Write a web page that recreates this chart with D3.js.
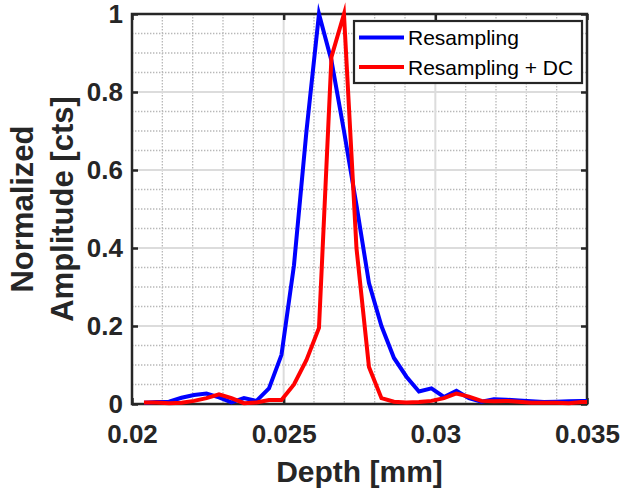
<!DOCTYPE html>
<html><head><meta charset="utf-8">
<script src="https://cdn.jsdelivr.net/npm/d3@7/dist/d3.min.js"></script>
<style>
html,body{margin:0;padding:0;background:#fff}
svg{display:block}
text{font-family:"Liberation Sans",Arial,Helvetica,sans-serif}
</style>
</head><body>
<svg id="chart" width="621" height="489"></svg>
<script>
// ---- data ----
const depth = [0.020396,0.020808,0.021220,0.021632,0.022044,0.022456,0.022868,0.023280,
  0.023692,0.024104,0.024516,0.024928,0.025340,0.025752,0.026164,0.026576,0.026988,
  0.027400,0.027812,0.028224,0.028636,0.029048,0.029460,0.029872,0.030284,0.030696,
  0.031108,0.031520,0.031932,0.032344,0.032756,0.033168,0.033580,0.033992,0.034404,
  0.034816,0.035228];
const resampling = [0.003,0.005,0.006,0.016,0.023,0.027,0.017,0.004,0.015,0.008,0.040,
  0.126,0.356,0.700,1.000,0.880,0.700,0.510,0.310,0.200,0.118,0.070,0.032,0.040,0.018,
  0.034,0.015,0.006,0.012,0.011,0.009,0.007,0.005,0.006,0.007,0.008,0.008];
const resamplingDC = [0.004,0.004,0.002,0.003,0.008,0.015,0.025,0.015,0.002,0.004,0.010,
  0.010,0.050,0.113,0.195,0.890,1.000,0.400,0.095,0.015,0.006,0.004,0.005,0.008,0.015,
  0.027,0.019,0.008,0.007,0.008,0.006,0.003,0.003,0.003,0.002,0.005,0.005];
const seriesNames = ["Resampling","Resampling + DC"];
const seriesColors = ["#0000ff","#ff0000"];
const xTicks = [0.02,0.025,0.03,0.035];
const xTickLabels = ["0.02","0.025","0.03","0.035"];
const yTicks = [0,0.2,0.4,0.6,0.8,1];
const yTickLabels = ["0","0.2","0.4","0.6","0.8","1"];
const xLabel = "Depth [mm]";
const yLabelLines = ["Normalized","Amplitude [cts]"];

// ---- layout ----
const L = 132, R = 587, T = 14, B = 404;
const axisColor = "#262626";
const svg = d3.select("#chart");
const x = d3.scaleLinear().domain([0.02,0.035]).range([L,R]);
const y = d3.scaleLinear().domain([0,1]).range([B,T]);

// grid
const minorX = d3.range(21,35).map(v=>v/1000).filter(v=>Math.round(v*1000)%5!==0);
const minorY = d3.range(1,20).map(v=>v/20).filter(v=>Math.round(v*20)%4!==0);
const gGrid = svg.append("g");
gGrid.selectAll("line.mx").data(minorX).join("line")
  .attr("x1",d=>x(d)).attr("x2",d=>x(d)).attr("y1",T).attr("y2",B)
  .attr("stroke","#b8b8b8").attr("stroke-width",1.3).attr("stroke-dasharray","1.4,1.6");
gGrid.selectAll("line.my").data(minorY).join("line")
  .attr("y1",d=>y(d)).attr("y2",d=>y(d)).attr("x1",L).attr("x2",R)
  .attr("stroke","#b8b8b8").attr("stroke-width",1.3).attr("stroke-dasharray","1.4,1.6");
gGrid.selectAll("line.Mx").data(xTicks.slice(1,-1)).join("line")
  .attr("x1",d=>x(d)).attr("x2",d=>x(d)).attr("y1",T).attr("y2",B)
  .attr("stroke","#dcdcdc").attr("stroke-width",2);
gGrid.selectAll("line.My").data(yTicks.slice(1,-1)).join("line")
  .attr("y1",d=>y(d)).attr("y2",d=>y(d)).attr("x1",L).attr("x2",R)
  .attr("stroke","#dcdcdc").attr("stroke-width",2);

// axes
function styleAxis(g){
  g.select(".domain").remove();
  g.selectAll(".tick line").attr("stroke",axisColor).attr("stroke-width",2.5);
  g.selectAll(".tick text").attr("fill",axisColor).attr("font-weight","bold").attr("font-size",26);
}
svg.append("g").attr("transform",`translate(0,${B})`)
  .call(d3.axisBottom(x).tickValues(xTicks).tickFormat((d,i)=>xTickLabels[i]).tickSizeInner(-6).tickSizeOuter(0).tickPadding(21))
  .call(styleAxis);
svg.append("g").attr("transform",`translate(0,${T})`)
  .call(d3.axisTop(x).tickValues(xTicks).tickFormat("").tickSizeInner(-6).tickSizeOuter(0))
  .call(styleAxis);
svg.append("g").attr("transform",`translate(${L},0)`)
  .call(d3.axisLeft(y).tickValues(yTicks).tickFormat((d,i)=>yTickLabels[i]).tickSizeInner(-6).tickSizeOuter(0).tickPadding(9))
  .call(styleAxis);
svg.append("g").attr("transform",`translate(${R},0)`)
  .call(d3.axisRight(y).tickValues(yTicks).tickFormat("").tickSizeInner(-6).tickSizeOuter(0))
  .call(styleAxis);

// box
svg.append("rect").attr("x",L).attr("y",T).attr("width",R-L).attr("height",B-T)
  .attr("fill","none").attr("stroke",axisColor).attr("stroke-width",2.5);

// data lines
svg.append("clipPath").attr("id","clip").append("rect")
  .attr("x",L).attr("y",0).attr("width",R-L).attr("height",489);
const line = d3.line().x(d=>x(d[0])).y(d=>y(d[1]));
[resampling,resamplingDC].forEach((vals,k)=>{
  svg.append("path").datum(depth.map((d,i)=>[d,vals[i]]))
    .attr("clip-path","url(#clip)")
    .attr("d",line).attr("fill","none").attr("stroke",seriesColors[k])
    .attr("stroke-width",4).attr("stroke-linejoin","miter").attr("stroke-miterlimit",10);
});

// legend
const lg = svg.append("g");
lg.append("rect").attr("x",354).attr("y",21).attr("width",228).attr("height",62)
  .attr("fill","#fff").attr("stroke",axisColor).attr("stroke-width",2.2);
seriesNames.forEach((n,k)=>{
  const cy = 37.5 + k*29.5;
  lg.append("line").attr("x1",359).attr("x2",404).attr("y1",cy).attr("y2",cy)
    .attr("stroke",seriesColors[k]).attr("stroke-width",4);
  lg.append("text").attr("x",408).attr("y",cy+7.5).attr("font-size",21)
    .attr("fill","#000").text(n);
});

// axis labels
svg.append("text").attr("x",(L+R)/2).attr("y",482).attr("text-anchor","middle")
  .attr("font-size",30).attr("font-weight","bold").attr("fill",axisColor).text(xLabel);
yLabelLines.forEach((t,k)=>{
  svg.append("text").attr("transform",`translate(${33+k*40},${(T+B)/2}) rotate(-90)`)
    .attr("text-anchor","middle").attr("font-size",31).attr("font-weight","bold")
    .attr("fill",axisColor).text(t);
});
</script>
</body></html>
